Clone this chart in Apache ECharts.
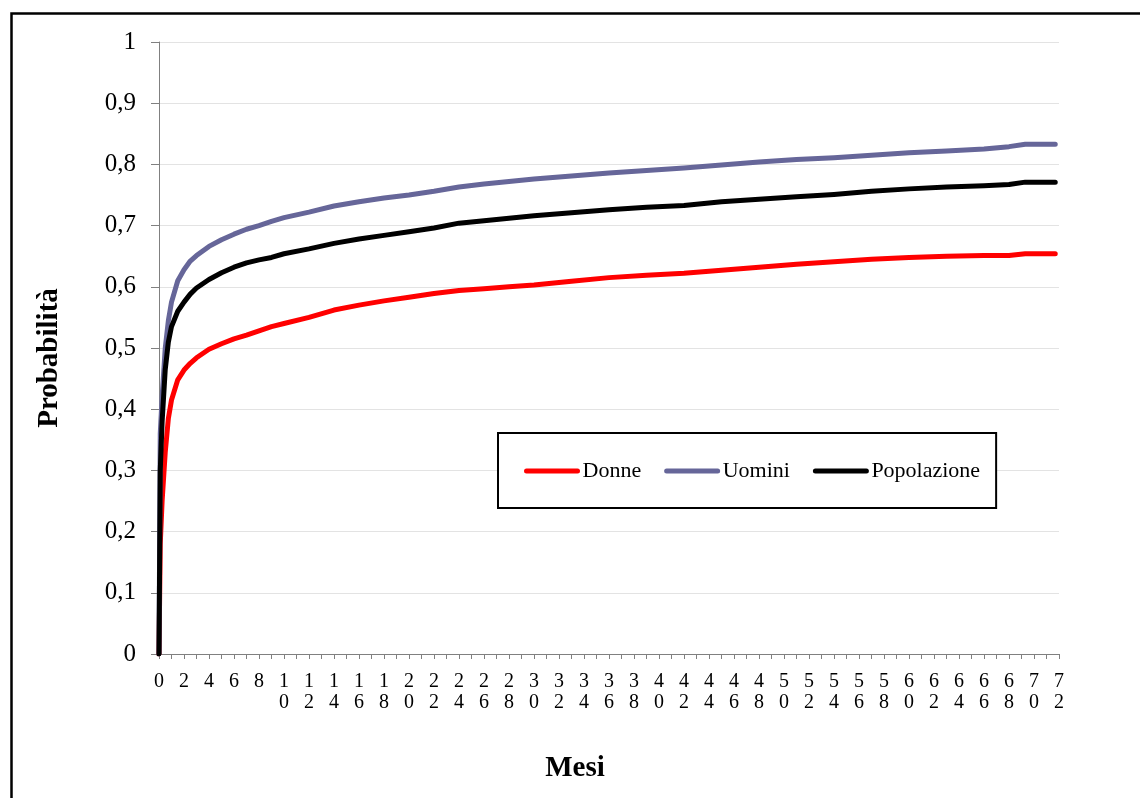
<!DOCTYPE html>
<html>
<head>
<meta charset="utf-8">
<script src="https://cdn.jsdelivr.net/npm/echarts@6/dist/echarts.min.js"></script>
<style>
html,body{margin:0;padding:0;background:#fff;}
#chart{width:1140px;height:798px;}
</style>
</head>
<body>
<div id="chart"></div>
<script>
// Months (x values shared by all series)
const months = [0, 0.1, 0.25, 0.5, 0.75, 1, 1.5, 2, 2.5, 3, 4, 5, 6, 7, 8, 9, 10, 12, 14, 16, 18, 20, 22, 24, 26, 28, 30, 33, 36, 39, 42, 45, 48, 51, 54, 57, 60, 63, 66, 68, 69.3, 71.7];

const donne = [0, 0.18, 0.25, 0.33, 0.385, 0.415, 0.448, 0.464, 0.475, 0.484, 0.498, 0.507, 0.515, 0.521, 0.528, 0.535, 0.540, 0.550, 0.562, 0.570, 0.577, 0.583, 0.589, 0.594, 0.597, 0.600, 0.603, 0.609, 0.615, 0.619, 0.622, 0.627, 0.632, 0.637, 0.641, 0.645, 0.648, 0.650, 0.651, 0.651, 0.654, 0.654];

const uomini = [0, 0.36, 0.42, 0.50, 0.545, 0.575, 0.61, 0.628, 0.642, 0.651, 0.666, 0.677, 0.686, 0.694, 0.700, 0.707, 0.713, 0.722, 0.732, 0.739, 0.745, 0.750, 0.756, 0.763, 0.768, 0.772, 0.776, 0.781, 0.786, 0.790, 0.794, 0.799, 0.804, 0.808, 0.811, 0.815, 0.819, 0.822, 0.825, 0.829, 0.833, 0.833];

const popolazione = [0, 0.30, 0.38, 0.465, 0.51, 0.535, 0.56, 0.575, 0.588, 0.598, 0.612, 0.623, 0.632, 0.639, 0.644, 0.648, 0.654, 0.662, 0.671, 0.678, 0.684, 0.690, 0.696, 0.704, 0.708, 0.712, 0.716, 0.721, 0.726, 0.730, 0.733, 0.739, 0.743, 0.747, 0.751, 0.756, 0.760, 0.763, 0.765, 0.767, 0.771, 0.771];

const seriesNames = ['Donne', 'Uomini', 'Popolazione'];
const seriesColors = ['#FF0000', '#666699', '#000000'];
const seriesValues = [donne, uomini, popolazione];

const yTicks = ['0', '0,1', '0,2', '0,3', '0,4', '0,5', '0,6', '0,7', '0,8', '0,9', '1'];
const xTitle = 'Mesi';
const yTitle = 'Probabilità';

const FONT = "'Liberation Serif', 'Times New Roman', serif";

const chart = echarts.init(document.getElementById('chart'), null, {renderer: 'canvas'});

const series = seriesNames.map((name, i) => ({
  name: name,
  type: 'line',
  data: months.map((m, j) => [m, seriesValues[i][j]]),
  showSymbol: false,
  symbol: 'none',
  smooth: false,
  color: seriesColors[i],
  lineStyle: {width: 5, color: seriesColors[i], cap: 'round', join: 'round'},
  z: 2 + i
}));

chart.setOption({
  animation: false,
  backgroundColor: '#ffffff',
  grid: {left: 159, top: 42, right: 81, bottom: 144, containLabel: false},
  xAxis: {
    type: 'value',
    min: 0, max: 72, interval: 2,
    axisLine: {show: true, lineStyle: {color: '#808080', width: 1}},
    axisTick: {show: true, length: 5, lineStyle: {color: '#808080'}},
    minorTick: {show: true, splitNumber: 2, length: 5, lineStyle: {color: '#808080'}},
    splitLine: {show: false},
    axisLabel: {
      color: '#000', fontFamily: FONT, fontSize: 20, lineHeight: 21, margin: 17,
      formatter: v => String(Math.round(v)).split('').join('\n')
    }
  },
  yAxis: {
    type: 'value',
    min: 0, max: 1, interval: 0.1,
    axisLine: {show: true, lineStyle: {color: '#808080', width: 1}},
    axisTick: {show: true, length: 8, lineStyle: {color: '#808080'}},
    splitLine: {show: true, lineStyle: {color: '#E3E3E3', width: 1}},
    axisLabel: {
      color: '#000', fontFamily: FONT, fontSize: 25, margin: 23,
      formatter: v => yTicks[Math.round(v * 10)]
    }
  },
  legend: {
    data: seriesNames,
    left: 498, top: 433,
    orient: 'horizontal',
    padding: [27, 16, 26, 26],
    itemGap: 23,
    itemWidth: 51, itemHeight: 22,
    borderColor: '#000', borderWidth: 2,
    backgroundColor: '#fff',
    itemStyle: {opacity: 0},
    lineStyle: {width: 5, cap: 'round'},
    textStyle: {color: '#000', fontFamily: FONT, fontSize: 22, lineHeight: 22}
  },
  graphic: [
    {type: 'rect', left: 9, top: 11, shape: {width: 1300, height: 1000},
     style: {fill: 'none', stroke: '#000', lineWidth: 2.5}, silent: true, z: 100},
    {type: 'text', x: 50, y: 358, rotation: Math.PI / 2,
     style: {text: yTitle, font: "bold 29px 'Liberation Serif', serif", fill: '#000', textAlign: 'center', textVerticalAlign: 'middle'}},
    {type: 'text', x: 575, y: 769,
     style: {text: xTitle, font: "bold 29px 'Liberation Serif', serif", fill: '#000', textAlign: 'center', textVerticalAlign: 'middle'}}
  ],
  series: series
});
</script>
</body>
</html>
